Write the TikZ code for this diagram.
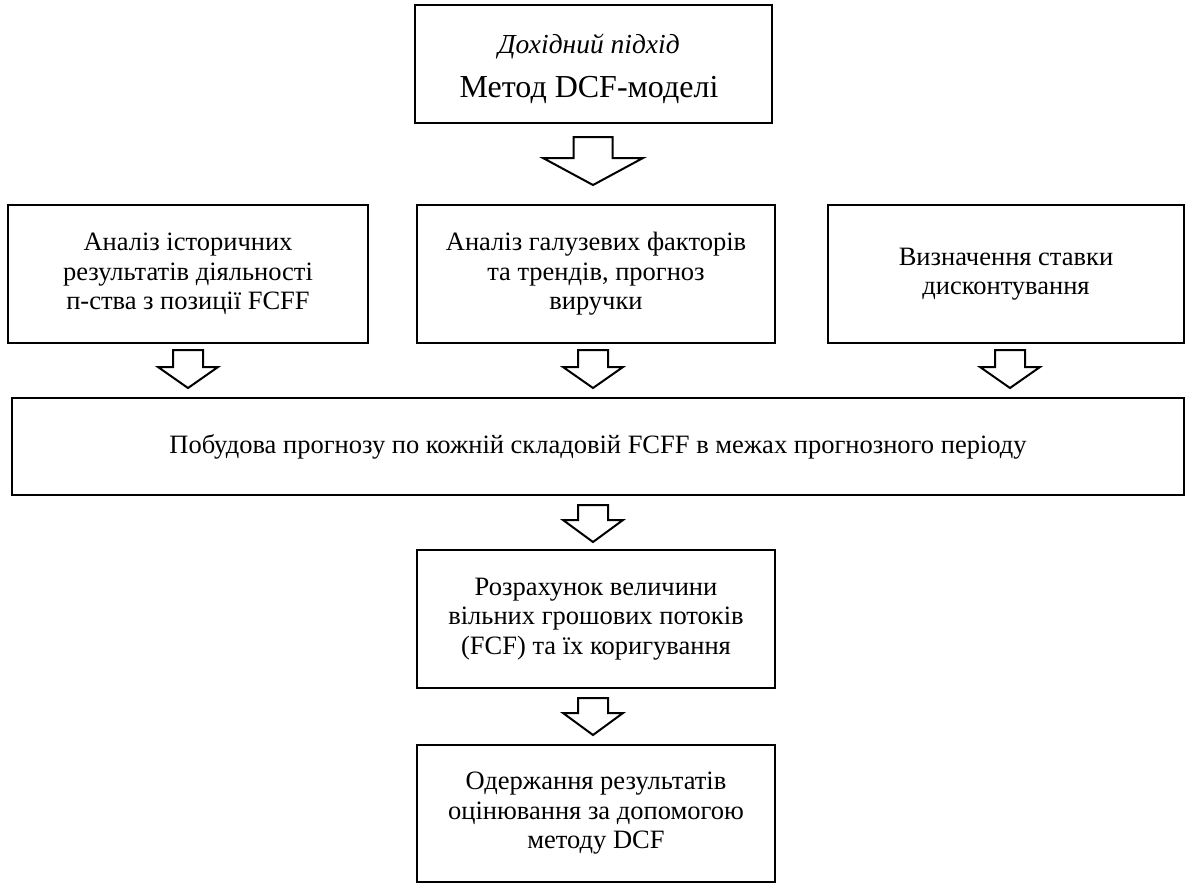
\documentclass[tikz,border=0pt]{standalone}
\usepackage{fontspec}
\setmainfont{Liberation Serif}

\tikzset{
  box/.style={draw, line width=2.5pt, rectangle, inner sep=0pt, align=center,
    font=\fontsize{26.5}{29.5}\selectfont},
  arrowline/.style={draw, line width=2pt, fill=white, line join=miter},
}

% hollow block arrow pointing down: x, y top, y where the head starts, y of tip, half shaft width, half head width
\newcommand\hollowarrow[6]{%
  \path[arrowline] (#1-#5,#2) -- (#1+#5,#2) -- (#1+#5,#3) -- (#1+#6,#3)
    -- (#1,#4) -- (#1-#6,#3) -- (#1-#5,#3) -- cycle;}

\begin{document}
\begin{tikzpicture}[x=1pt,y=-1pt]
\useasboundingbox (0,0) rectangle (1186,884);

% top box
\node[box, minimum width=357pt, minimum height=118pt] (top) at (593.5,64) {};
\node[inner sep=0pt, font=\fontsize{27.5}{30}\selectfont\itshape] (top-a) at (589,47) {Дохідний підхід};
\node[inner sep=0pt, font=\fontsize{32}{36}\selectfont] (top-b) at (589,90) {Метод DCF-моделі};

\hollowarrow{593}{137}{158}{185}{19.5}{50}

% three analysis boxes
\node[box, minimum width=360pt, minimum height=138pt] (b1) at (188,274)
  {Аналіз історичних\\результатів діяльності\\п-ства з позиції FCFF};
\node[box, minimum width=358pt, minimum height=138pt] (b2) at (596,274)
  {Аналіз галузевих факторів\\та трендів, прогноз\\виручки};
\node[box, minimum width=356pt, minimum height=138pt] (b3) at (1006,274)
  {Визначення ставки\\дисконтування};

\hollowarrow{188}{350}{367}{388}{15}{30}
\hollowarrow{593}{350}{367}{388}{15}{30}
\hollowarrow{1010}{350}{367}{388}{15}{30}

% forecast box
\node[box, minimum width=1172pt, minimum height=97pt] (wide) at (598,446.5)
  {Побудова прогнозу по кожній складовій FCFF в межах прогнозного періоду};

\hollowarrow{593}{505}{520}{542}{15}{30}

% free cash flow box
\node[box, minimum width=358pt, minimum height=138pt] (b5) at (596,619)
  {Розрахунок величини\\вільних грошових потоків\\(FCF) та їх коригування};

\hollowarrow{593}{698}{713}{735}{15}{30}

% result box
\node[box, minimum width=358pt, minimum height=137pt] (b6) at (596,813.5)
  {Одержання результатів\\оцінювання за допомогою\\методу DCF};
\end{tikzpicture}
\end{document}
